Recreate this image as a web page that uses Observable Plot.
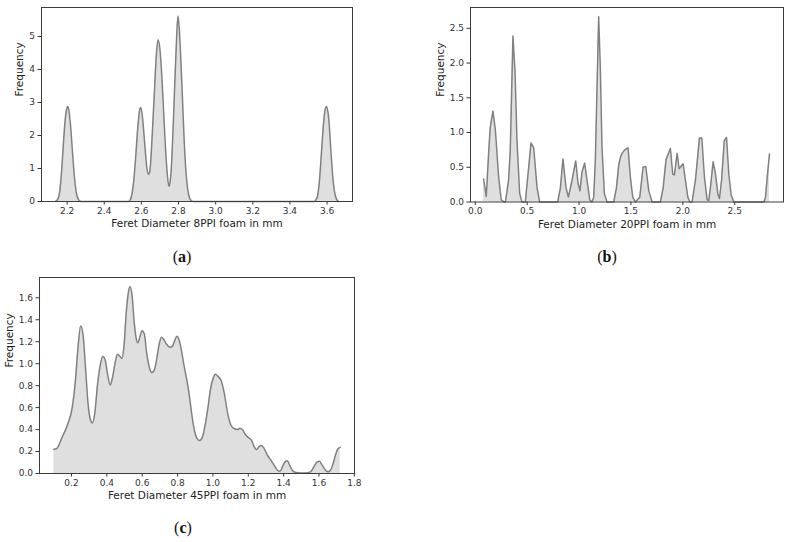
<!DOCTYPE html>
<html><head><meta charset="utf-8">
<script src="https://cdn.jsdelivr.net/npm/d3@7"></script>
<script src="https://cdn.jsdelivr.net/npm/@observablehq/plot@0.6"></script>
<style>
body{margin:0;background:#fff;}
#wrap{position:relative;width:791px;height:542px;overflow:hidden;background:#fff;}
.panel{position:absolute;}
.cap{position:absolute;font-family:"Liberation Serif","Times New Roman",serif;font-size:16px;color:#111;transform:translate(-50%,-50%);white-space:nowrap;}
</style></head><body><div id="wrap"></div>
<script>
// ---- Panel (a): 8PPI ----
const aX = [2.137,2.15,2.16,2.17,2.18,2.19,2.2,2.203,2.21,2.22,2.23,2.24,2.25,2.26,2.27,2.28,
  2.53,2.54,2.55,2.56,2.57,2.58,2.59,2.596,2.605,2.61,2.62,2.63,2.638,2.645,2.65,2.66,2.67,2.68,2.69,2.70,2.71,2.72,2.73,2.74,2.748,2.755,2.76,2.77,2.78,2.79,2.797,2.805,2.81,2.82,2.83,2.84,2.85,2.86,2.87,2.88,
  3.53,3.54,3.55,3.56,3.57,3.58,3.59,3.597,3.605,3.61,3.62,3.63,3.64,3.65,3.661];
const aY = [0,0.07,0.3,0.9,1.75,2.5,2.85,2.88,2.75,2.2,1.4,0.7,0.25,0.07,0.01,0,
  0,0.05,0.25,0.7,1.4,2.2,2.75,2.85,2.6,2.3,1.6,1.0,0.82,0.9,1.2,2.2,3.3,4.4,4.9,4.6,3.8,2.7,1.6,0.8,0.46,0.6,0.9,2.1,3.6,5.0,5.62,5.15,4.6,3.3,1.9,0.9,0.35,0.1,0.02,0,
  0,0.05,0.2,0.7,1.5,2.3,2.8,2.88,2.7,2.45,1.6,0.8,0.3,0.08,0];
const aXTicks = [2.2,2.4,2.6,2.8,3.0,3.2,3.4,3.6];
const aYTicks = [0,1,2,3,4,5];

// ---- Panel (b): 20PPI ----
const bX = [0.080,0.106,0.13,0.144,0.170,0.193,0.225,0.25,0.28,0.29,0.321,0.337,0.363,0.383,0.402,0.428,0.45,0.482,0.514,0.537,0.563,0.595,0.62,
  0.794,0.82,0.845,0.874,0.897,0.932,0.968,0.99,1.009,1.028,1.054,1.077,1.103,1.125,1.141,1.157,1.189,1.205,1.221,1.244,1.27,
  1.334,1.36,1.382,1.398,1.414,1.44,1.472,1.495,1.517,1.543,1.585,1.617,1.643,1.672,1.704,
  1.784,1.81,1.838,1.880,1.903,1.919,1.945,1.964,2.003,2.025,2.048,2.067,2.089,2.121,2.160,2.183,2.208,2.234,2.25,2.266,2.292,2.315,2.337,2.353,2.373,2.399,2.421,2.443,2.466,2.491,
  2.781,2.797,2.813,2.835];
const bY = [0.33,0.08,0.74,1.07,1.31,1.05,0.36,0.03,0,0,0.31,0.74,2.39,1.88,0.88,0.12,0,0,0.49,0.85,0.78,0.21,0,
  0,0.2,0.62,0.21,0.07,0.31,0.59,0.27,0.16,0.43,0.56,0.31,0.03,0,0.07,0.6,2.667,1.93,0.79,0.12,0,
  0,0.2,0.53,0.64,0.70,0.75,0.78,0.35,0.07,0,0.07,0.5,0.51,0.16,0,
  0,0.2,0.61,0.77,0.4,0.39,0.70,0.48,0.55,0.31,0.07,0,0,0.31,0.92,0.92,0.36,0.03,0.02,0.21,0.58,0.40,0.12,0.05,0.31,0.88,0.93,0.40,0.1,0,
  0,0.07,0.36,0.69];
const bXTicks = [0,0.5,1.0,1.5,2.0,2.5];
const bYTicks = [0,0.5,1.0,1.5,2.0,2.5];

// ---- Panel (c): 45PPI ----
const cX = [0.100,0.115,0.147,0.179,0.204,0.222,0.237,0.252,0.265,0.279,0.294,0.307,0.318,0.331,0.348,0.363,0.378,0.391,0.404,0.419,0.432,0.447,0.46,0.475,0.485,0.498,0.509,0.52,0.531,0.543,0.554,0.565,0.575,0.588,0.599,0.612,0.625,0.64,0.653,0.668,0.681,0.694,0.709,0.722,0.737,0.756,0.771,0.784,0.797,0.808,0.822,0.837,0.853,0.868,0.883,0.897,0.91,0.925,0.94,0.957,0.972,0.985,1.0,1.015,
  1.028,1.047,1.065,1.084,1.103,1.122,1.140,1.153,1.168,1.183,1.202,1.219,1.234,1.247,1.262,1.275,1.29,1.309,1.328,1.346,1.365,1.38,1.393,1.408,1.421,1.434,1.449,1.468,1.496,1.524,1.552,1.571,1.59,1.603,1.618,1.637,1.652,1.665,1.680,1.693,1.708,1.72];
const cY = [0.22,0.225,0.33,0.45,0.60,0.845,1.15,1.343,1.27,0.97,0.63,0.49,0.46,0.54,0.82,0.99,1.066,1.03,0.905,0.806,0.875,1.01,1.087,1.066,1.048,1.18,1.45,1.63,1.70,1.615,1.39,1.24,1.19,1.25,1.30,1.27,1.10,0.97,0.92,0.94,1.03,1.16,1.24,1.22,1.18,1.15,1.16,1.21,1.25,1.22,1.12,0.98,0.845,0.694,0.51,0.38,0.32,0.30,0.33,0.45,0.60,0.755,0.86,0.905,
  0.885,0.845,0.725,0.543,0.437,0.407,0.401,0.413,0.399,0.356,0.326,0.302,0.242,0.217,0.247,0.256,0.226,0.166,0.121,0.076,0.03,0.02,0.06,0.106,0.115,0.076,0.03,0.009,0.005,0.005,0.015,0.06,0.106,0.112,0.076,0.03,0.015,0.03,0.09,0.166,0.226,0.238];
const cXTicks = [0.2,0.4,0.6,0.8,1.0,1.2,1.4,1.6,1.8];
const cYTicks = [0,0.2,0.4,0.6,0.8,1.0,1.2,1.4,1.6];

const yLabel = "Frequency";
const xLabels = ["Feret Diameter 8PPI foam in mm","Feret Diameter 20PPI foam in mm","Feret Diameter 45PPI foam in mm"];
const captions = ["a","b","c"];

const wrap = document.getElementById("wrap");

function makePanel(o) {
  const data = o.xs.map((x, i) => ({x, y: o.ys[i]}));
  const svg = Plot.plot({
    width: o.width, height: o.height,
    marginLeft: o.mL, marginRight: o.mR, marginTop: o.mT, marginBottom: o.mB,
    style: {fontFamily: "'DejaVu Sans', sans-serif", fontSize: "9px", color: "#333", background: "transparent", overflow: "visible"},
    x: {domain: o.xDomain, ticks: o.xTicks, tickFormat: o.xFmt, label: null, tickSize: 3.5, tickPadding: 2.5},
    y: {domain: o.yDomain, ticks: o.yTicks, tickFormat: o.yFmt, label: null, tickSize: 3.5, tickPadding: 3},
    marks: [
      Plot.areaY(data, {x: "x", y: "y", fill: "#dfdfdf", curve: o.curve}),
      Plot.lineY(data, {x: "x", y: "y", stroke: "#808080", strokeWidth: 1.5, curve: o.curve}),
      Plot.frame({stroke: "#3c3c3c", strokeWidth: 1}),
      Plot.text([o.xLabel], {frameAnchor: "bottom", dy: 25.5, text: d => d, fontSize: 10.5, fill: "#222"}),
      Plot.text([yLabel], {frameAnchor: "left", dx: o.yLabelDx, dy: -8, rotate: -90, text: d => d, fontSize: 10.5, fill: "#222"})
    ]
  });
  const div = document.createElement("div");
  div.className = "panel";
  div.style.left = o.left + "px";
  div.style.top = o.top + "px";
  div.appendChild(svg);
  wrap.appendChild(div);
  const cap = document.createElement("div");
  cap.className = "cap";
  cap.style.left = o.capX + "px";
  cap.style.top = o.capY + "px";
  cap.innerHTML = "(<b>" + o.caption + "</b>)";
  wrap.appendChild(cap);
}

const f1 = d3.format(".1f");
const f0 = d3.format("d");

makePanel({xs: aX, ys: aY, xDomain: [2.062, 3.737], yDomain: [0, 5.88], xTicks: aXTicks, yTicks: aYTicks,
  xFmt: f1, yFmt: f0, xLabel: xLabels[0], curve: "monotone-x",
  left: 0, top: 0, width: 395, height: 240, mL: 41, mR: 43, mT: 7, mB: 39, yLabelDx: -22,
  caption: captions[0], capX: 182, capY: 257});

makePanel({xs: bX, ys: bY, xDomain: [-0.046, 2.97], yDomain: [0, 2.8], xTicks: bXTicks, yTicks: bYTicks,
  xFmt: f1, yFmt: f1, xLabel: xLabels[1], curve: "linear",
  left: 395, top: 0, width: 396, height: 240, mL: 75, mR: 8, mT: 7, mB: 38.5, yLabelDx: -30,
  caption: captions[1], capX: 607, capY: 257});

makePanel({xs: cX, ys: cY, xDomain: [0.019, 1.801], yDomain: [0, 1.785], xTicks: cXTicks, yTicks: cYTicks,
  xFmt: f1, yFmt: f1, xLabel: xLabels[2], curve: "monotone-x",
  left: 0, top: 270, width: 395, height: 240, mL: 39, mR: 41, mT: 7, mB: 37, yLabelDx: -30,
  caption: captions[2], capX: 183, capY: 528});
</script></body></html>
